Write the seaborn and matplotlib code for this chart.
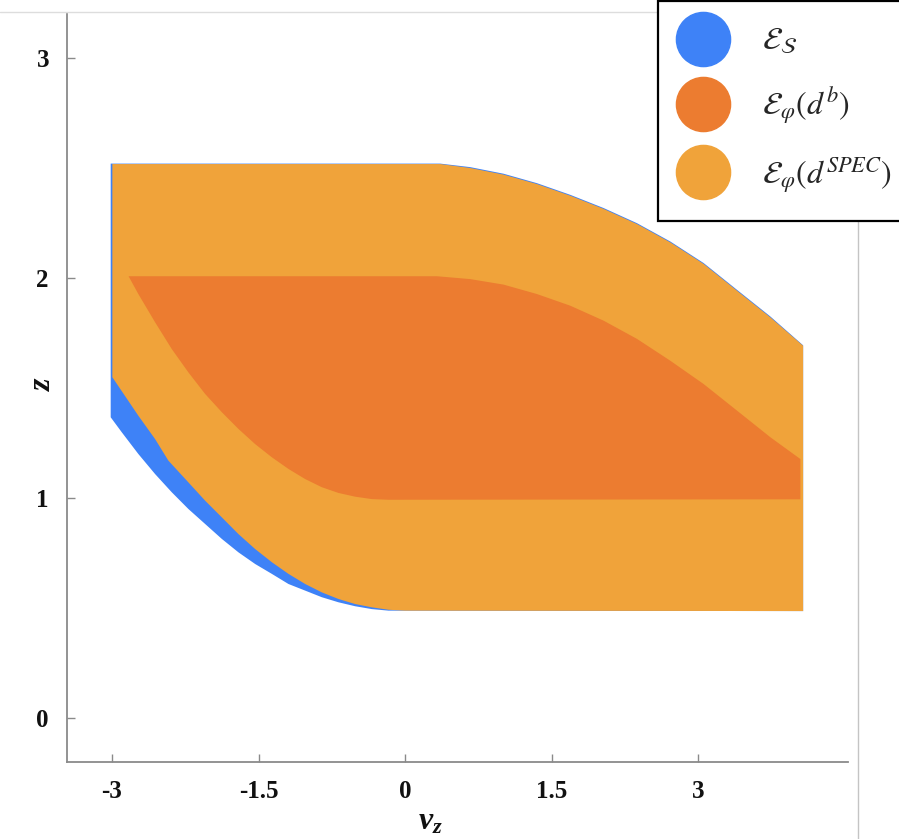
import matplotlib
matplotlib.use("Agg")
import matplotlib.pyplot as plt
from matplotlib.lines import Line2D
import seaborn as sns
import pandas as pd

# ---------------- data ----------------
# E_S (blue): left edge, top flat, top curve, right edge, bottom flat, bottom curve
es_v = [-3.013, -3.013, 0.358, 0.665, 1.006, 1.348, 1.689, 2.030, 2.372, 2.712, 3.053, 3.395, 3.736, 4.071,
        4.071, -0.171, -0.341, -0.512, -0.683, -0.853, -1.023, -1.194, -1.364, -1.535, -1.706,
        -1.876, -2.047, -2.218, -2.388, -2.559, -2.730, -2.900]
es_z = [1.367, 2.520, 2.520, 2.504, 2.474, 2.431, 2.378, 2.318, 2.249, 2.166, 2.068, 1.946, 1.825, 1.694,
        0.486, 0.488, 0.495, 0.508, 0.526, 0.549, 0.579, 0.609, 0.655, 0.700, 0.753,
        0.814, 0.882, 0.950, 1.026, 1.109, 1.200, 1.299]

# E_phi(d^SPEC) (light orange)
spec_v = [-2.996, -2.996, 0.358, 0.665, 1.006, 1.348, 1.689, 2.030, 2.372, 2.712, 3.053, 3.395, 3.736, 4.071,
          4.071, 0.0, -0.171, -0.341, -0.512, -0.683, -0.853, -1.023, -1.194, -1.364, -1.535,
          -1.706, -1.876, -2.047, -2.218, -2.423, -2.559, -2.730]
spec_z = [1.549, 2.518, 2.518, 2.500, 2.470, 2.427, 2.374, 2.314, 2.245, 2.162, 2.064, 1.942, 1.821, 1.692,
          0.486, 0.488, 0.492, 0.503, 0.518, 0.541, 0.571, 0.609, 0.655, 0.708, 0.768,
          0.836, 0.912, 0.988, 1.071, 1.170, 1.268, 1.374]

# E_phi(d^b) (dark orange)
db_v = [-2.83, 0.324, 0.665, 1.006, 1.348, 1.689, 2.030, 2.372, 2.712, 3.053, 3.395, 3.736, 4.043,
        4.043, -0.171, -0.341, -0.512, -0.683, -0.853, -1.023, -1.194, -1.364, -1.535, -1.706,
        -1.876, -2.047, -2.218, -2.388, -2.559, -2.730]
db_z = [2.008, 2.008, 1.995, 1.970, 1.927, 1.874, 1.806, 1.723, 1.624, 1.518, 1.397, 1.276, 1.177,
        0.994, 0.992, 0.995, 1.006, 1.023, 1.049, 1.086, 1.132, 1.185, 1.245, 1.314,
        1.390, 1.473, 1.571, 1.677, 1.799, 1.927]

labels = [r"$\mathcal{E}_{\mathcal{S}}$",
          r"$\mathcal{E}_{\varphi}(d^{b})$",
          r"$\mathcal{E}_{\varphi}(d^{SPEC})$"]
colors = ["#3E82F7", "#EC7C30", "#F0A33A"]

x_ticks = [-3, -1.5, 0, 1.5, 3]
x_tick_labels = ["-3", "-1.5", "0", "1.5", "3"]
y_ticks = [0, 1, 2, 3]
y_tick_labels = ["0", "1", "2", "3"]

# ---------------- style ----------------
sns.set_theme(style="ticks")
plt.rcParams["font.family"] = ["Liberation Serif", "DejaVu Serif"]
plt.rcParams["mathtext.fontset"] = "stix"
plt.rcParams["mathtext.it"] = "Liberation Serif:italic:bold"
plt.rcParams["mathtext.rm"] = "Liberation Serif:bold"
plt.rcParams["mathtext.bf"] = "Liberation Serif:bold"

fig = plt.figure(figsize=(8.99, 8.39), dpi=100)
ax = fig.add_axes([67 / 899, 1 - 762 / 839, (848 - 67) / 899, (762 - 14) / 839])

df_es = pd.DataFrame({"v": es_v, "z": es_z})
df_spec = pd.DataFrame({"v": spec_v, "z": spec_z})
df_db = pd.DataFrame({"v": db_v, "z": db_z})

ax.fill(df_es["v"], df_es["z"], color=colors[0], lw=0, zorder=1)
ax.fill(df_spec["v"], df_spec["z"], color=colors[2], lw=0, zorder=2)
ax.fill(df_db["v"], df_db["z"], color=colors[1], lw=0, zorder=3)

ax.set_xlim(-3.46, 4.53)
ax.set_ylim(-0.2, 3.2)
ax.set_xticks(x_ticks)
ax.set_xticklabels(x_tick_labels)
ax.set_yticks(y_ticks)
ax.set_yticklabels(y_tick_labels)

spine_col = "#8a8a8a"
sns.despine(ax=ax)
for s in ["left", "bottom"]:
    ax.spines[s].set_color(spine_col)
    ax.spines[s].set_linewidth(1.3)
ax.tick_params(axis="both", direction="in", length=6, width=1.0, color=spine_col,
               labelsize=18, labelcolor="#111111")
ax.tick_params(axis="x", pad=13)
ax.tick_params(axis="y", pad=13)
for t in ax.get_xticklabels() + ax.get_yticklabels():
    t.set_fontweight("bold")

ax.set_xlabel(r"$v_z$", fontsize=23, math_fontfamily="custom", color="#111111")
ax.set_ylabel(r"$z$", fontsize=23, math_fontfamily="custom", color="#111111")
ax.xaxis.set_label_coords((430 - 67) / 781, -(822 - 762) / 748)
ax.yaxis.set_label_coords((42 - 67) / 781, (762 - 383) / 748)
ax.xaxis.label.set_va("center")
ax.yaxis.label.set_va("center")

# legend
handles = [Line2D([], [], marker="o", linestyle="none", markersize=39,
                  markerfacecolor=c, markeredgecolor=c) for c in colors]
leg = fig.legend(handles, labels, loc="upper left",
                 bbox_to_anchor=(658 / 899, 1 - 1 / 839), bbox_transform=fig.transFigure,
                 fontsize=23, frameon=True, fancybox=False, framealpha=1,
                 edgecolor="black", borderpad=0.8, labelspacing=0.9,
                 handlelength=1.2, handletextpad=1.25, borderaxespad=0)
leg.get_frame().set_linewidth(1.6)

# screenshot border lines
fig.add_artist(Line2D([0, 658 / 899], [1 - 12 / 839, 1 - 12 / 839],
                      transform=fig.transFigure, color="#dddddd", lw=1))
fig.add_artist(Line2D([858 / 899, 858 / 899], [0, 1 - 214 / 839],
                      transform=fig.transFigure, color="#c4c4c4", lw=1))

fig.savefig("out.png", dpi=100)
